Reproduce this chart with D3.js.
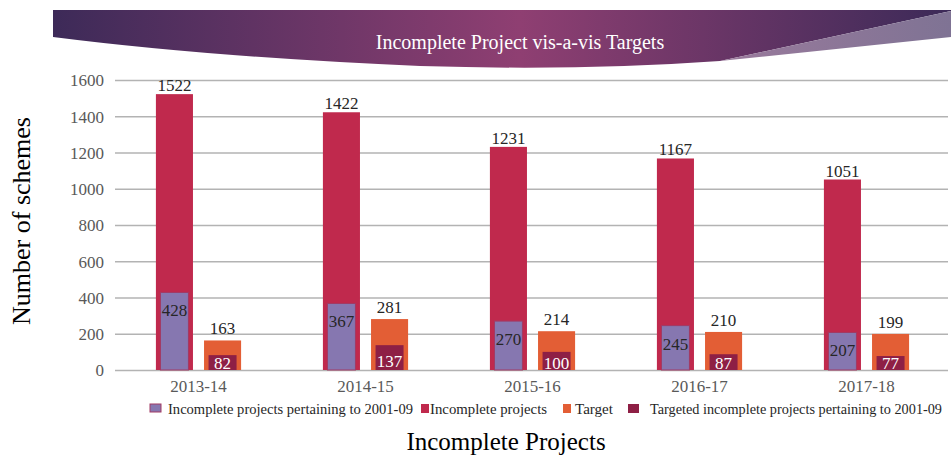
<!doctype html>
<html>

<head>
    <style>
        body {
            margin: 0;
            background: #fff;
        }

        .axis path {
            display: none;
        }

        .axis line {
            stroke: #b3b3b3;
            stroke-width: 1.5px;
        }

        .lbl {
            font-size: 17px;
            fill: #262626;
            text-anchor: middle;
        }
    </style>
    <script src="https://d3js.org/d3.v7.min.js"></script>
</head>

<body>
    <script>
        // data
        const years = ["2013-14", "2014-15", "2015-16", "2016-17", "2017-18"]
        const incomplete = [1522, 1422, 1231, 1167, 1051]
        const incomplete0109 = [428, 367, 270, 245, 207]
        const target = [163, 281, 214, 210, 199]
        const target0109 = [82, 137, 100, 87, 77]
        const yTicks = [0, 200, 400, 600, 800, 1000, 1200, 1400, 1600]
        const legendNames = ["Incomplete projects pertaining to 2001-09", "Incomplete projects", "Target", "Targeted incomplete projects pertaining to 2001-09"]

        const colors = {
            inc: "#c0294d",
            inc0109: "#8677b0",
            tgt: "#e35e35",
            tgt0109: "#8e1f45"
        }

        const W = 951, H = 455
        const serif = "'Liberation Serif', 'Times New Roman', Times, serif"
        const svg = d3.select("body").append("svg")
            .attr("width", W)
            .attr("height", H)

        const defs = svg.append("defs")

        // title banner
        const grad = defs.append("linearGradient").attr("id", "bannerGrad")
        grad.append("stop").attr("offset", "0%").attr("stop-color", "#3d2a58")
        grad.append("stop").attr("offset", "52%").attr("stop-color", "#8f3f72")
        grad.append("stop").attr("offset", "100%").attr("stop-color", "#3c2a58")
        const grad2 = defs.append("linearGradient").attr("id", "sliverGrad")
        grad2.append("stop").attr("offset", "0%").attr("stop-color", "#9a7a9c")
        grad2.append("stop").attr("offset", "100%").attr("stop-color", "#7f7394")

        svg.append("path")
            .attr("d", "M53,10 L951,10 L951,11 L720,61 Q580,71 420,66 Q210,57 53,37 Z")
            .attr("fill", "url(#bannerGrad)")
        svg.append("path")
            .attr("d", "M720,61 L951,11 L951,37 Z")
            .attr("fill", "url(#sliverGrad)")

        svg.append("text")
            .attr("x", 520)
            .attr("y", 49)
            .attr("text-anchor", "middle")
            .attr("fill", "#fff")
            .style("font-family", serif)
            .style("font-size", "20px")
            .text("Incomplete Project vis-a-vis Targets")

        // scales
        const plotLeft = 115, plotRight = 948
        const x0 = d3.scaleBand().domain(years).range([115, 950])
        const x1 = d3.scaleBand().domain(["inc", "tgt"]).range([0, x0.bandwidth()])
            .paddingInner(0.23).paddingOuter(0.85)
        const y = d3.scaleLinear().domain([0, 1600]).range([370, 80])

        // gridlines + y labels
        const yAxis = svg.append("g")
            .attr("class", "axis")
            .attr("transform", `translate(${plotLeft},0)`)
            .call(d3.axisLeft(y).tickValues(yTicks).tickFormat(d3.format("d"))
                .tickSize(-(plotRight - plotLeft)).tickPadding(11))
        yAxis.selectAll("text").attr("dy", "0.34em")

        // x labels
        svg.append("g")
            .attr("class", "axis")
            .attr("transform", `translate(0,370)`)
            .call(d3.axisBottom(x0).tickSize(0).tickPadding(10))

        svg.selectAll(".axis text")
            .style("font-family", serif)
            .style("font-size", "17px")
            .style("fill", "#595959")

        defs.append("clipPath").attr("id", "plotClip")
            .append("rect").attr("x", 0).attr("y", 0).attr("width", W).attr("height", 370)

        const rows = years.map((yr, i) => ({
            yr, inc: incomplete[i], inc0109: incomplete0109[i], tgt: target[i], tgt0109: target0109[i]
        }))

        const bw = x1.bandwidth()
        const iw = 28
        const g = svg.append("g")

        const grp = g.selectAll("g.year")
            .data(rows)
            .enter()
            .append("g")
            .attr("class", "year")
            .attr("transform", d => `translate(${x0(d.yr)},0)`)

        // outer bars
        grp.append("rect")
            .attr("x", x1("inc"))
            .attr("width", bw)
            .attr("y", d => y(d.inc))
            .attr("height", d => y(0) - y(d.inc))
            .attr("fill", colors.inc)
        grp.append("rect")
            .attr("x", x1("tgt"))
            .attr("width", bw)
            .attr("y", d => y(d.tgt))
            .attr("height", d => y(0) - y(d.tgt))
            .attr("fill", colors.tgt)

        // inner bars
        grp.append("rect")
            .attr("x", x1("inc") + (bw - iw) / 2)
            .attr("width", iw)
            .attr("y", d => y(d.inc0109))
            .attr("height", d => y(0) - y(d.inc0109))
            .attr("fill", colors.inc0109)
            .attr("stroke", "#a23a64")
            .attr("stroke-width", 1)
        grp.append("rect")
            .attr("x", x1("tgt") + (bw - iw) / 2)
            .attr("width", iw)
            .attr("y", d => y(d.tgt0109))
            .attr("height", d => y(0) - y(d.tgt0109))
            .attr("fill", colors.tgt0109)

        // labels
        grp.append("text").attr("class", "lbl")
            .attr("x", x1("inc") + bw / 2)
            .attr("y", d => y(d.inc) - 3)
            .text(d => d.inc)
        grp.append("text").attr("class", "lbl")
            .attr("x", x1("tgt") + bw / 2)
            .attr("y", d => y(d.tgt) - 6)
            .text(d => d.tgt)
        grp.append("text").attr("class", "lbl")
            .attr("x", x1("inc") + bw / 2)
            .attr("y", d => y(d.inc0109) + 24)
            .text(d => d.inc0109)
        grp.append("text").attr("class", "lbl")
            .attr("x", x1("tgt") + bw / 2)
            .attr("y", d => Math.min(y(d.tgt0109) + 22, 369))
            .attr("clip-path", "url(#plotClip)")
            .style("fill", "#fff")
            .text(d => d.tgt0109)
        grp.selectAll(".lbl").style("font-family", serif)

        // legend
        const legColors = [colors.inc0109, colors.inc, colors.tgt, colors.tgt0109]
        const legSq = [150, 421, 563, 628]
        const legTx = [168, 430, 575, 650]
        const legLen = [245, 117, 38, 292]
        const leg = svg.append("g")
        legendNames.forEach((name, i) => {
            leg.append("rect")
                .attr("x", legSq[i]).attr("y", 404)
                .attr("width", i === 0 || i === 3 ? 11 : 8)
                .attr("height", i === 0 ? 8 : 9)
                .attr("fill", legColors[i])
                .attr("stroke", i === 0 ? "#a23a64" : "none")
            leg.append("text")
                .attr("x", legTx[i]).attr("y", 414)
                .style("font-family", serif)
                .style("font-size", "14px")
                .attr("textLength", legLen[i])
                .attr("lengthAdjust", "spacingAndGlyphs")
                .attr("fill", "#262626")
                .text(name)
        })

        // axis titles
        svg.append("text")
            .attr("transform", "translate(30,221) rotate(-90)")
            .attr("text-anchor", "middle")
            .style("font-family", serif)
            .style("font-size", "26px")
            .attr("fill", "#000")
            .text("Number of schemes")
        svg.append("text")
            .attr("x", 506)
            .attr("y", 450)
            .attr("text-anchor", "middle")
            .style("font-family", serif)
            .style("font-size", "25px")
            .attr("fill", "#000")
            .text("Incomplete Projects")
    </script>
</body>

</html>
